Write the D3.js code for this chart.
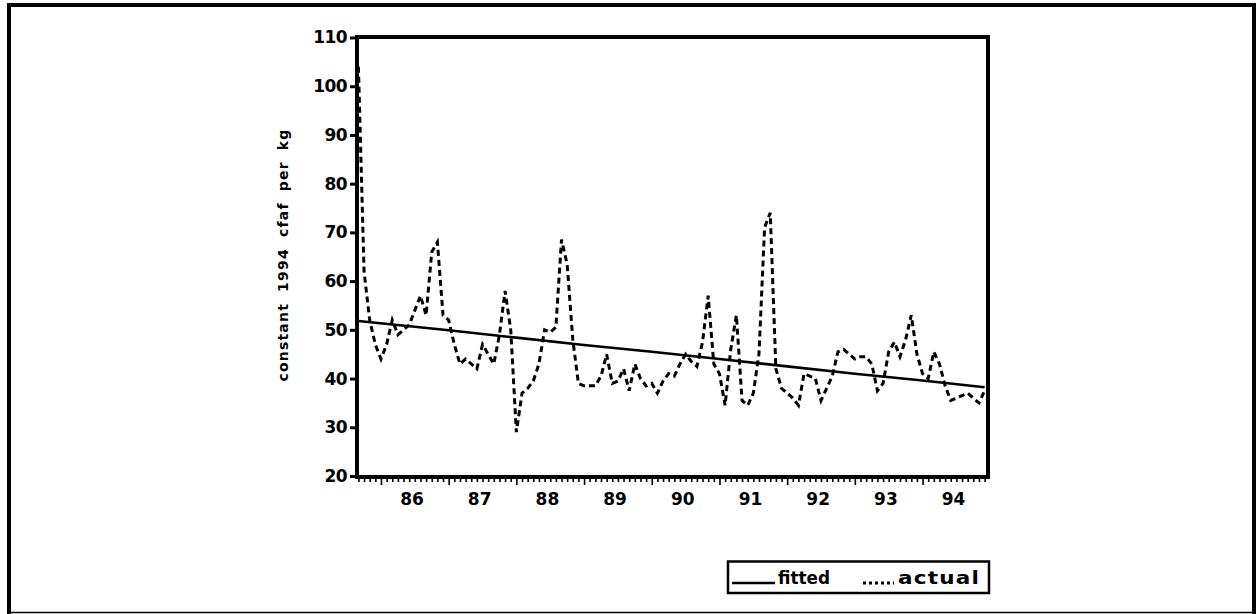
<!DOCTYPE html>
<html>
<head>
<meta charset="utf-8">
<script src="https://cdn.jsdelivr.net/npm/d3@7"></script>
<style>
  body { margin: 0; background: #fff; }
  svg { display: block; }
  text { font-family: 'DejaVu Sans', sans-serif; font-weight: bold; fill: #000; }
</style>
</head>
<body>
<div id="chart"></div>
<script>
// monthly series, Sep 1985 .. Dec 1994 (index 0 = Sep 85)
const actual = [
  104, 62, 52, 47, 44, 47, 52, 49, 50, 51,
  54, 57, 53, 66, 68, 53, 52, 47, 43, 44,
  43, 42, 47, 45, 43, 49, 58, 50, 29, 37,
  38, 39.5, 43, 50, 49.5, 50.5, 68.5, 63.5, 48, 39,
  38.5, 38.5, 38.5, 40.5, 45, 39, 39.5, 42, 37.5, 43,
  40, 38.5, 39, 37, 39.5, 41, 40.5, 43, 45, 43.5,
  42.5, 47.5, 57, 43, 41, 34.5, 46, 53, 35.5, 34.5,
  37, 45, 71, 74, 42, 38, 37, 36, 34.5, 41,
  40.5, 40, 35.5, 38, 40.5, 45.5, 46, 45, 44, 44.5,
  44.5, 43, 37.5, 39, 45.5, 47.5, 44.5, 48, 53, 45,
  41, 40, 45.5, 43, 38.5, 35.5, 36, 36.5, 37, 36,
  35, 37.5
];
// fitted trend read at a few months
const fittedIdx = [0, 16, 28, 40, 52, 64, 76, 88, 100, 111];
const fittedVal = [51.8, 49.9, 48.4, 46.9, 45.5, 44.0, 42.5, 41.0, 39.6, 38.2];

const years = ['86', '87', '88', '89', '90', '91', '92', '93', '94'];
const yTicks = [20, 30, 40, 50, 60, 70, 80, 90, 100, 110];
const yTitle = 'constant 1994 cfaf per kg';
const legendItems = ['fitted', 'actual'];

const width = 1256, height = 614;
const plot = { left: 357, right: 988, top: 37, bottom: 477 };

const svg = d3.select('#chart').append('svg')
  .attr('width', width).attr('height', height);

// outer frame
svg.append('line').attr('x1', 7).attr('x2', 1256).attr('y1', 5).attr('y2', 5)
  .attr('stroke', '#000').attr('stroke-width', 4);
svg.append('line').attr('x1', 9).attr('x2', 9).attr('y1', 3).attr('y2', 614)
  .attr('stroke', '#000').attr('stroke-width', 4);
svg.append('line').attr('x1', 1254).attr('x2', 1254).attr('y1', 3).attr('y2', 614)
  .attr('stroke', '#000').attr('stroke-width', 4);
svg.append('line').attr('x1', 9).attr('x2', 1254).attr('y1', 612.5).attr('y2', 612.5)
  .attr('stroke', '#000').attr('stroke-width', 1.5);

const x = d3.scaleLinear().domain([-0.25, 111.6]).range([plot.left, plot.right]);
const y = d3.scaleLinear().domain([20, 110]).range([476, 37.5]);

// x axis: monthly minor ticks, January major ticks
const months = d3.range(0, actual.length);
const janIdx = years.map((yr, i) => 4 + 12 * i);

const xAxis = svg.append('g').attr('transform', `translate(0,${plot.bottom})`)
  .call(d3.axisBottom(x).tickValues(months).tickSize(4).tickFormat(''));
xAxis.select('.domain').remove();
xAxis.selectAll('.tick line')
  .attr('stroke-width', 1.6)
  .attr('y1', 1)
  .attr('y2', d => (janIdx.includes(d) ? 8 : 5));

svg.append('g').selectAll('text').data(years).join('text')
  .attr('x', (d, i) => x(janIdx[i] + 5.5))
  .attr('y', 505)
  .attr('text-anchor', 'middle')
  .style('font-size', '17px')
  .text(d => d);

// y axis
const yAxis = svg.append('g').attr('transform', `translate(${plot.left},0)`)
  .call(d3.axisLeft(y).tickValues(yTicks).tickSize(7).tickPadding(3));
yAxis.select('.domain').remove();
yAxis.selectAll('.tick line').attr('stroke-width', 3);
yAxis.selectAll('.tick text')
  .style('font-family', "'DejaVu Sans', sans-serif")
  .style('font-weight', 'bold')
  .style('font-size', '17px')
  .style('letter-spacing', '-0.6px');

svg.append('text')
  .attr('transform', `translate(288,255) rotate(-90)`)
  .attr('text-anchor', 'middle')
  .style('font-size', '14px')
  .style('letter-spacing', '1.2px')
  .style('word-spacing', '5px')
  .text(yTitle);

// series
const fittedLine = d3.line().x(d => x(d[0])).y(d => y(d[1]));
svg.append('path')
  .datum(fittedIdx.map((d, i) => [d, fittedVal[i]]))
  .attr('d', fittedLine)
  .attr('fill', 'none').attr('stroke', '#000').attr('stroke-width', 2.6);

const actualLine = d3.line().x((d, i) => x(i)).y(d => y(d));
svg.append('path')
  .datum(actual)
  .attr('d', actualLine)
  .attr('fill', 'none').attr('stroke', '#000').attr('stroke-width', 3)
  .attr('stroke-dasharray', '6,4');

// plot frame
svg.append('rect')
  .attr('x', plot.left).attr('y', plot.top)
  .attr('width', plot.right - plot.left).attr('height', plot.bottom - plot.top)
  .attr('fill', 'none').attr('stroke', '#000').attr('stroke-width', 4);

// legend
const legend = svg.append('g');
legend.append('rect')
  .attr('x', 728).attr('y', 561.5).attr('width', 261).attr('height', 31.5)
  .attr('fill', 'none').attr('stroke', '#000').attr('stroke-width', 2.5);
legend.append('line').attr('x1', 732).attr('x2', 775).attr('y1', 583).attr('y2', 583)
  .attr('stroke', '#000').attr('stroke-width', 2.4);
legend.append('text').attr('x', 778).attr('y', 584)
  .attr('textLength', 52).attr('lengthAdjust', 'spacingAndGlyphs')
  .style('font-size', '18px').text(legendItems[0]);
legend.append('line').attr('x1', 863).attr('x2', 894).attr('y1', 583).attr('y2', 583)
  .attr('stroke', '#000').attr('stroke-width', 3).attr('stroke-dasharray', '3,3');
legend.append('text').attr('x', 898).attr('y', 584)
  .attr('textLength', 82).attr('lengthAdjust', 'spacingAndGlyphs')
  .style('font-size', '18px').style('letter-spacing', '1px').text(legendItems[1]);
</script>
</body>
</html>
